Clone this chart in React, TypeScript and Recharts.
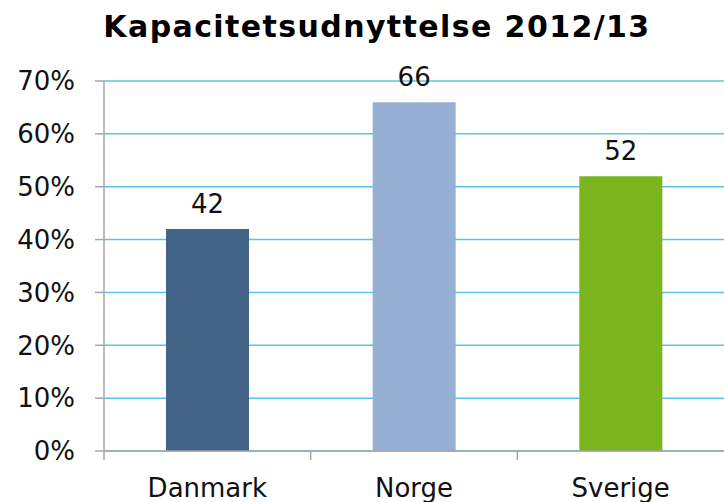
import React from "react";
import { BarChart, Bar, XAxis, YAxis, CartesianGrid, Cell, LabelList } from "recharts";

const categories = ["Danmark", "Norge", "Sverige"];
const values = [42, 66, 52];
const colors = ["#426587", "#95B0D3", "#7AB51E"];
const yTicks = [0, 10, 20, 30, 40, 50, 60, 70];
const title = "Kapacitetsudnyttelse 2012/13";

const data = categories.map((c, i) => ({ name: c, value: values[i] }));

const FONT = "'DejaVu Sans', Verdana, sans-serif";

const XTick = (props: any) => {
  const { x, y, payload } = props;
  const half = payload && payload.offset ? payload.offset : 103.3;
  return (
    <g>
      <line x1={x - half} y1={y} x2={x - half} y2={y + 9} stroke="#A6A6A6" strokeWidth={1.5} />
      <text x={x} y={y + 46} textAnchor="middle" fontSize={26} fontFamily={FONT} fill="#111">
        {payload.value}
      </text>
    </g>
  );
};

export default function App() {
  return (
    <div style={{ position: "absolute", left: 0, top: 0, width: 724, height: 502, background: "#fff" }}>
      <svg width={724} height={60} style={{ position: "absolute", left: 0, top: 0 }}>
        <text x={377} y={37} textAnchor="middle" fontSize={30} fontWeight="bold" fontFamily={FONT} letterSpacing={1.4} fill="#000">
          {title}
        </text>
      </svg>
      <div style={{ position: "absolute", left: 0, top: 0 }}>
        <BarChart width={724} height={502} data={data} margin={{ top: 81, right: 0, bottom: 0, left: 0 }} barCategoryGap="30%">
          <CartesianGrid vertical={false} stroke="#5BC3E8" strokeWidth={1.5} />
          <XAxis
            dataKey="name"
            height={51}
            tickLine={false}
            tickSize={0}
            tickMargin={0}
            axisLine={{ stroke: "#A6A6A6", strokeWidth: 1.5 }}
            tick={<XTick />}
            interval={0}
          />
          <YAxis
            width={104}
            domain={[0, 70]}
            ticks={yTicks}
            tickFormatter={(v: number) => `${v}%`}
            tickSize={9}
            tickMargin={20}
            tickLine={{ stroke: "#A6A6A6", strokeWidth: 1.5 }}
            axisLine={{ stroke: "#A6A6A6", strokeWidth: 1.5 }}
            tick={{ fontSize: 26, fontFamily: FONT, fill: "#111" }}
            interval={0}
          />
          <Bar dataKey="value" isAnimationActive={false}>
            {data.map((d, i) => (
              <Cell key={d.name} fill={colors[i]} />
            ))}
            <LabelList dataKey="value" position="top" offset={16} style={{ fontSize: 26, fontFamily: FONT, fill: "#111" }} />
          </Bar>
        </BarChart>
      </div>
    </div>
  );
}
